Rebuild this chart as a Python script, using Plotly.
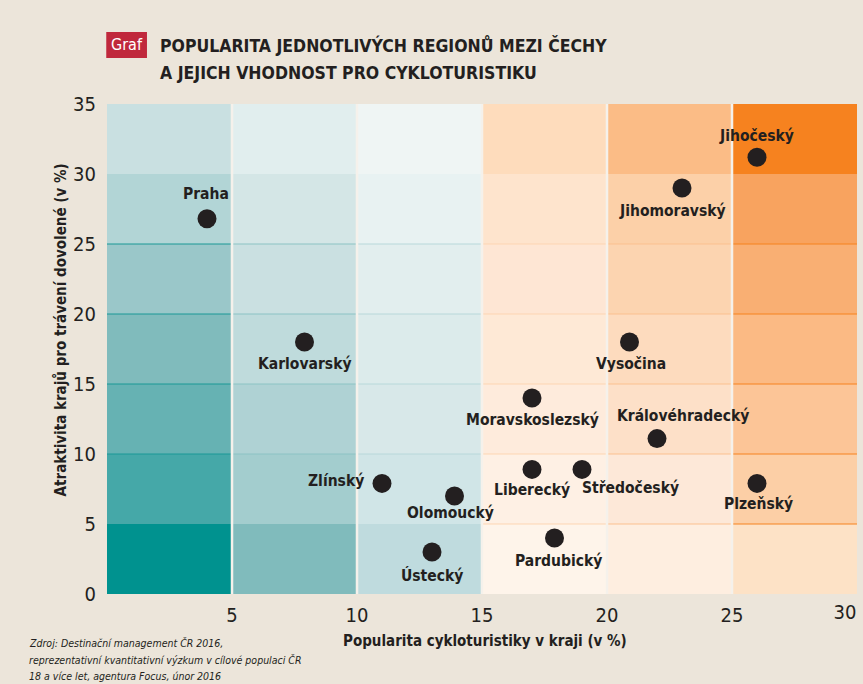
import plotly.graph_objects as go

# ---- data ----
regions = ["Praha", "Karlovarský", "Jihočeský", "Jihomoravský", "Vysočina",
           "Moravskoslezský", "Královéhradecký", "Liberecký", "Středočeský",
           "Plzeňský", "Pardubický", "Zlínský", "Olomoucký", "Ústecký"]
popularity = [4.0, 7.9, 26.0, 23.0, 20.9, 17.0, 22.0, 17.0, 19.0, 26.0, 17.9, 11.0, 13.9, 13.0]
attractivity = [26.8, 18.0, 31.2, 29.0, 18.0, 14.0, 11.1, 8.9, 8.9, 7.9, 4.0, 7.9, 7.0, 3.0]

x_ticks = [5, 10, 15, 20, 25, 30]
y_ticks = [0, 5, 10, 15, 20, 25, 30, 35]
x_bins = [0, 5, 10, 15, 20, 25, 30]
y_bins = [0, 5, 10, 15, 20, 25, 30, 35]

source_lines = ["Zdroj: Destinační management ČR 2016,",
                "reprezentativní kvantitativní výzkum v cílové populaci ČR",
                "18 a více let, agentura Focus, únor 2016"]

# ---- styles ----
# label offsets in pixels (dx, dy)
label_offsets = [(-1, 25), (0, -22), (-1, 21), (-10, -23), (1, -22),
                 (0, -22), (26, 23), (0, -21), (48, -19),
                 (1, -21), (4, -23), (-46, 2), (-4, -17), (0, -23)]

# cell colors per column (bottom row first)
cell_colors = [
    ["#00928F", "#45A8A8", "#66B2B3", "#80BBBC", "#9AC7C9", "#B2D5D6", "#C9E0E1"],
    ["#80BBBC", "#A3CDCE", "#AFD2D4", "#BFDBDC", "#CAE0E1", "#D4E6E6", "#E1EEEE"],
    ["#BFDBDE", "#D0E5E7", "#D8E8E9", "#DCEBEB", "#E2EEEE", "#E8F2F2", "#EFF5F4"],
    ["#FEF4EA", "#FEF0E4", "#FEEBDC", "#FEE9D6", "#FEE6D4", "#FEE4CD", "#FEDCBC"],
    ["#FEEEE0", "#FDE8D8", "#FDE0C8", "#FDDBBE", "#FCD4B0", "#FCD0A8", "#FBBC86"],
    ["#FDE2C6", "#FCCFA6", "#FCC597", "#FBBA84", "#F9AF73", "#F8A35F", "#F6821F"],
]
line_colors = ["#1A9896", "#8CC3C4", "#B8D8DA", "#FDD5B2", "#FBC08F", "#F6821F"]

BG = "#ECE5DA"
INK = "#231F20"
FONT = "DejaVu Sans Condensed, Liberation Sans Narrow, Arial Narrow, sans-serif"

fig = go.Figure()

shapes = []
for ci in range(len(x_bins) - 1):
    for ri in range(len(y_bins) - 1):
        shapes.append(dict(type="rect", xref="x", yref="y", layer="below",
                           x0=x_bins[ci], x1=x_bins[ci + 1],
                           y0=y_bins[ri], y1=y_bins[ri + 1],
                           fillcolor=cell_colors[ci][ri], line=dict(width=0)))
    hl = [10, 15, 20, 25] + ([5] if ci >= 3 else [])
    for yv in hl:
        shapes.append(dict(type="line", xref="x", yref="y", layer="below",
                           x0=x_bins[ci], x1=x_bins[ci + 1], y0=yv, y1=yv,
                           line=dict(color=line_colors[ci], width=1)))
for xv in x_bins[1:-1]:
    shapes.append(dict(type="line", xref="x", yref="y", layer="below",
                       x0=xv, x1=xv, y0=y_bins[0], y1=y_bins[-1],
                       line=dict(color="#F5F1EB", width=2.5)))
# "Graf" red box
shapes.append(dict(type="rect", xref="paper", yref="paper",
                   x0=-0.001, x1=0.0533, y0=1.094, y1=1.147,
                   fillcolor="#C0283C", line=dict(width=0)))

fig.add_trace(go.Scatter(
    x=popularity, y=attractivity, mode="markers",
    marker=dict(size=19, color=INK), hoverinfo="text", text=regions,
    showlegend=False, cliponaxis=False))
# empty helper trace so the secondary x axis (last tick label) is drawn
fig.add_trace(go.Scatter(x=[], y=[], xaxis="x2", yaxis="y", showlegend=False,
                         hoverinfo="skip"))

annotations = []
for name, xv, yv, (dx, dy) in zip(regions, popularity, attractivity, label_offsets):
    annotations.append(dict(x=xv, y=yv, xref="x", yref="y", text=name,
                            showarrow=False, xshift=dx, yshift=dy,
                            xanchor="center", yanchor="middle",
                            font=dict(family=FONT, size=15.5, color=INK, weight="bold")))

annotations += [
    dict(x=0.0263, y=1.1205, xref="paper", yref="paper", text="Graf", showarrow=False,
         xanchor="center", yanchor="middle",
         font=dict(family=FONT, size=16, color="white")),
    dict(x=0.068, y=1.120, xref="paper", yref="paper",
         text="POPULARITA JEDNOTLIVÝCH REGIONŮ MEZI ČECHY", showarrow=False,
         xanchor="left", yanchor="middle",
         font=dict(family=FONT, size=17.5, color=INK, weight="bold")),
    dict(x=0.068, y=1.063, xref="paper", yref="paper",
         text="A JEJICH VHODNOST PRO CYKLOTURISTIKU", showarrow=False,
         xanchor="left", yanchor="middle",
         font=dict(family=FONT, size=17.5, color=INK, weight="bold")),
    dict(x=0.504, y=-0.096, xref="paper", yref="paper",
         text="Popularita cykloturistiky v kraji (v %)", showarrow=False,
         xanchor="center", yanchor="middle",
         font=dict(family=FONT, size=15, color=INK, weight="bold")),
    dict(x=-0.062, y=0.539, xref="paper", yref="paper", textangle=-90,
         text="Atraktivita krajů pro trávení dovolené (v %)", showarrow=False,
         xanchor="center", yanchor="middle",
         font=dict(family=FONT, size=15, color=INK, weight="bold")),
]
for i, (line, ypx) in enumerate(zip(source_lines, [643, 660, 676])):
    annotations.append(dict(x=-0.107, y=(594 - ypx) / 490, xref="paper", yref="paper",
                            text="<i>" + line + "</i>", showarrow=False,
                            xanchor="left", yanchor="middle",
                            font=dict(family=FONT, size=10.5, color=INK)))

tick_font = dict(family=FONT, size=20, color=INK)
x_common = dict(range=[x_bins[0], x_bins[-1]], showgrid=False, zeroline=False,
                showline=False, ticks="outside", tickcolor="rgba(0,0,0,0)",
                tickfont=tick_font, fixedrange=True, automargin=False)

fig.update_layout(
    width=863, height=684,
    margin=dict(l=107, r=6, t=104, b=90, autoexpand=False),
    paper_bgcolor=BG, plot_bgcolor=BG,
    shapes=shapes, annotations=annotations,
    xaxis=dict(tickvals=x_ticks[:-1], ticklen=3, **x_common),
    xaxis2=dict(tickvals=x_ticks[-1:], overlaying="x", anchor="y", side="bottom",
                ticklen=8, ticklabelposition="outside left", **x_common),
    yaxis=dict(range=[y_bins[0], y_bins[-1]], tickvals=y_ticks, showgrid=False,
               zeroline=False, automargin=False,
               showline=False, ticks="outside", ticklen=6, tickcolor="rgba(0,0,0,0)",
               tickfont=tick_font, fixedrange=True),
)

fig.write_html("out.html", config={"displayModeBar": False},
               post_script="document.body.style.margin='0';document.body.style.overflow='hidden';")
